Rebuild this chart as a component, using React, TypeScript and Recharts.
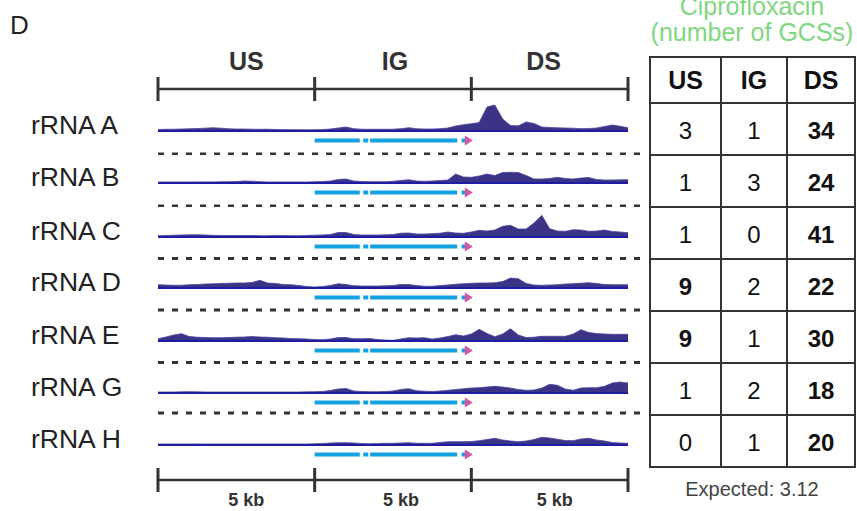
import React from "react";
import {
  AreaChart,
  Area,
  ComposedChart,
  Line,
  XAxis,
  YAxis,
  ReferenceLine,
  ReferenceArea,
  ReferenceDot,
} from "recharts";

// genomic position (kb) of each coverage sample
const kbGrid = [
  0, 0.25, 0.5, 0.75, 1, 1.25, 1.5, 1.75, 2, 2.25,
  2.5, 2.75, 3, 3.25, 3.5, 3.75, 4, 4.25, 4.5, 4.75,
  5, 5.25, 5.5, 5.75, 6, 6.25, 6.5, 6.75, 7, 7.25,
  7.5, 7.75, 8, 8.25, 8.5, 8.75, 9, 9.25, 9.5, 9.75,
  10, 10.25, 10.5, 10.75, 11, 11.25, 11.5, 11.75, 12, 12.25,
  12.5, 12.75, 13, 13.25, 13.5, 13.75, 14, 14.25, 14.5, 14.75,
  15,
];

const trackNames = ["rRNA A", "rRNA B", "rRNA C", "rRNA D", "rRNA E", "rRNA G", "rRNA H"];

const covA = [
  1.5, 1.7, 1.8, 2, 2.2, 2.5, 2.8, 3.3, 2.8, 2.2,
  2, 2, 1.8, 1.7, 1.8, 1.5, 1.4, 1.3, 1.3, 1.2,
  1.3, 1.5, 2, 3, 4, 2.3, 1.8, 1.7, 1.8, 1.7,
  1.8, 2.3, 3.3, 2.3, 2, 2, 2.3, 3, 5, 6.3,
  7.3, 8.5, 24, 26, 12, 5.5, 5.2, 9, 7.5, 4,
  3.5, 3.2, 3, 2.8, 2.3, 2.5, 3, 4.5, 6, 4.7,
  3.3,
];
const covB = [
  1, 1, 1, 1, 1, 1.1, 1.1, 1.1, 1.2, 1.3,
  1.5, 2, 1.8, 1.3, 1, 1, 1, 1, 1, 1,
  1.2, 1.5, 2, 3.5, 4, 2, 1.5, 1.3, 1.3, 1.3,
  1.7, 2.5, 3.3, 2, 1.7, 2, 2.5, 3, 9, 6,
  5.7, 7, 9, 7.5, 10.5, 10.7, 10.5, 7.5, 4, 4,
  4.5, 5.7, 4.5, 4, 5, 5.5, 3.5, 3, 3, 3.2,
  3.3,
];
const covC = [
  1.3, 1.5, 1.8, 2, 2.2, 2.3, 2, 1.7, 1.5, 1.5,
  1.5, 1.5, 1.5, 1.3, 1.3, 1.5, 1.5, 1.3, 1.3, 1.5,
  1.8, 2, 2.5, 4.5, 4.5, 2.5, 2, 2, 2, 2.2,
  2.5, 3.8, 4, 3, 3, 3.3, 3.8, 5, 4, 3.7,
  5, 6.7, 6, 7, 10.7, 11.7, 8, 8, 14, 21.7,
  8.3, 6, 5.7, 7.3, 7, 5.7, 6, 7, 5.5, 5,
  4.3,
];
const covD = [
  3.3, 3, 2.7, 2.8, 3.3, 3.5, 4, 4.2, 4.5, 4.8,
  5, 5, 5.5, 7.7, 5, 4.5, 3.5, 3.3, 2.5, 1.5,
  1, 1.5, 2.5, 4.3, 3.5, 2.3, 2, 2, 2, 2.2,
  2.5, 3.5, 3.5, 2.5, 1.8, 1.7, 2.5, 3, 3.8, 4.3,
  4.7, 5, 5, 5.3, 6.5, 10, 9.3, 4.5, 3, 2.7,
  3, 3.3, 4, 4.3, 4.8, 5.3, 4.5, 3.5, 3.3, 3.3,
  3.3,
];
const covE = [
  2.3, 4, 6, 7.3, 4.5, 3.8, 3.5, 3.3, 3.3, 3.5,
  3.8, 4, 4.5, 4, 3.8, 3.3, 3, 2.5, 2.3, 2,
  1.5, 1.3, 2, 3.5, 3.5, 2.3, 2.3, 2.5, 1.5, 1,
  0.7, 2, 3.3, 3, 3.3, 2, 3, 4.5, 6.3, 5,
  7, 11.7, 7.5, 4.3, 7, 12.3, 6, 3.5, 3.8, 4.7,
  4.7, 4.7, 4.7, 7, 11.3, 8.5, 7.5, 7, 6.7, 6.7,
  6.7,
];
const covG = [
  1, 1, 1, 1.2, 1.3, 1.2, 1, 1, 1, 1,
  1, 1, 1, 1, 1, 1, 1, 1, 1, 1.2,
  1.3, 1.5, 2.5, 4, 4.5, 2, 1.5, 1.3, 1.3, 1.5,
  2, 3.5, 4.3, 2.3, 1.8, 1.5, 2, 2.7, 3.5, 4.3,
  5, 5.3, 6, 6.7, 6, 5, 3.5, 2.7, 3, 5,
  8.7, 7.7, 4, 2.7, 5, 5.3, 5.3, 6.7, 10, 11,
  10,
];
const covH = [
  1, 1, 1, 1, 1, 1.1, 1, 1, 1, 1,
  1, 1, 1, 1, 1, 1, 1, 1, 1, 1,
  1.2, 1.5, 2, 2.3, 2.3, 2, 1.5, 1.3, 1.5, 1.7,
  1.7, 2, 2.3, 1.8, 1.7, 1.7, 2.5, 3.3, 3.3, 3.3,
  3.5, 4.3, 5.5, 6.7, 5, 4, 3.3, 4, 5.5, 7.7,
  7, 5.7, 4.5, 4.3, 6, 6.7, 5, 4, 2.5, 2,
  1.7,
];
const coverage = [covA, covB, covC, covD, covE, covG, covH];

// rRNA operon drawn under each track (kb)
const geneParts = [
  [5.0, 6.44],
  [6.55, 6.71],
  [6.77, 9.55],
  [9.69, 9.8],
];
const geneTip = 9.92;

const regions = ["US", "IG", "DS"];
const regionBounds = [0, 5, 10, 15];
const scaleLabels = ["5 kb", "5 kb", "5 kb"];

// GCS counts per region
const usCounts = [3, 1, 1, 9, 9, 1, 0];
const igCounts = [1, 3, 0, 2, 1, 2, 1];
const dsCounts = [34, 24, 41, 22, 30, 18, 20];
const expected = 3.12;

const rows = kbGrid.map((kb, i) => {
  const r: Record<string, number> = { kb };
  coverage.forEach((c, t) => (r["t" + t] = c[i]));
  return r;
});
const barData = regionBounds.map((kb) => ({ kb, y: 0.5 }));

// layout
const X0 = 158;
const PLOT_W = 470;
const baselines = [131, 183, 236.5, 288, 340.5, 393, 445];
const dashYs = [154, 206, 258, 310, 362, 413];
const ABOVE = 30;
const BELOW = 24;
const FONT = '"Liberation Sans", Arial, sans-serif';

function Arrow(p: any) {
  const { cx, cy } = p;
  return <path d={`M${cx - 4},${cy - 5}L${cx + 4},${cy}L${cx - 4},${cy + 5}Z`} fill="#d4579f" />;
}

function Track({ idx }: { idx: number }) {
  const base = baselines[idx];
  const dash = dashYs[idx];
  const gy = -9.5;
  return (
    <div style={{ position: "absolute", left: X0, top: base - ABOVE }}>
      <AreaChart width={PLOT_W + 30} height={ABOVE + BELOW} data={rows} margin={{ top: 0, right: 30, bottom: 0, left: 0 }}>
        <XAxis type="number" dataKey="kb" domain={[0, 15]} hide />
        <YAxis type="number" domain={[-BELOW, ABOVE]} hide allowDataOverflow />
        <Area
          type="linear"
          dataKey={"t" + idx}
          stroke="#4a43a0"
          strokeWidth={0.8}
          fill="#3b3486"
          fillOpacity={1}
          baseValue={0}
          dot={false}
          activeDot={false}
          isAnimationActive={false}
        />
        <ReferenceLine y={0} stroke="#1d1ca3" strokeWidth={2} />
        {geneParts.map(([a, b], i) => (
          <ReferenceLine key={i} segment={[{ x: a, y: gy }, { x: b, y: gy }]} stroke="#12a2e2" strokeWidth={4} />
        ))}
        <ReferenceDot x={geneTip} y={gy} shape={Arrow} />
        {dash !== undefined && (
          <ReferenceLine
            segment={[{ x: 0, y: base - dash }, { x: 15.4, y: base - dash }]}
            ifOverflow="visible"
            stroke="#333"
            strokeWidth={3}
            strokeDasharray="6 8"
          />
        )}
      </AreaChart>
    </div>
  );
}

function RegionLabel(props: any) {
  const { viewBox, txt, place, shiftX, size } = props;
  const cx = viewBox.x + viewBox.width / 2 + shiftX;
  const y = place === "top" ? viewBox.y - 7 : viewBox.y + viewBox.height + 14;
  return (
    <text x={cx} y={y} textAnchor="middle" fontSize={size} fontWeight="bold" fill="#333" fontFamily={FONT}>
      {txt}
    </text>
  );
}

function ScaleBar({ top, place, labels, shifts, size }: { top: number; place: string; labels: string[]; shifts: number[]; size: number }) {
  const mTop = place === "top" ? 37 : 0;
  const mBottom = place === "top" ? 0 : 20;
  return (
    <div style={{ position: "absolute", left: X0 - 5, top: top - mTop }}>
      <ComposedChart width={PLOT_W + 10} height={mTop + 24 + mBottom} data={barData} margin={{ top: mTop, right: 5, bottom: mBottom, left: 5 }}>
        <XAxis type="number" dataKey="kb" domain={[0, 15]} hide />
        <YAxis type="number" domain={[0, 1]} hide />
        {labels.map((l, i) => (
          <ReferenceArea
            key={i}
            x1={regionBounds[i]}
            x2={regionBounds[i + 1]}
            y1={0}
            y2={1}
            fillOpacity={0}
            strokeOpacity={0}
            label={<RegionLabel txt={l} place={place} shiftX={shifts[i]} size={size} />}
          />
        ))}
        <Line dataKey="y" stroke="#333" strokeWidth={2.5} dot={false} isAnimationActive={false} />
        {regionBounds.map((b) => (
          <ReferenceLine key={b} x={b} stroke="#333" strokeWidth={3} />
        ))}
      </ComposedChart>
    </div>
  );
}

const cell: React.CSSProperties = {
  border: "2px solid #333",
  padding: 0,
  textAlign: "center",
  verticalAlign: "middle",
  color: "#111",
};

export default function App() {
  const strong = (v: number) => v > expected * 2;
  return (
    <div
      style={{
        position: "absolute",
        left: 0,
        top: 0,
        width: 857,
        height: 511,
        overflow: "hidden",
        background: "#fff",
        fontFamily: FONT,
        color: "#222",
      }}
    >
      <div style={{ position: "absolute", left: 10, top: 12, fontSize: 26, lineHeight: "26px" }}>D</div>

      <div
        style={{
          position: "absolute",
          left: 600,
          top: -7,
          width: 304,
          textAlign: "center",
          fontSize: 25,
          lineHeight: "26px",
          color: "#7fd77f",
        }}
      >
        Ciprofloxacin
        <br />
        (number of GCSs)
      </div>

      <ScaleBar top={77} place="top" labels={regions} shifts={[10, 2, -6]} size={25} />

      {trackNames.map((n, i) => (
        <div
          key={n}
          style={{ position: "absolute", left: 31, top: baselines[i] - 6 - 13, fontSize: 26.5, lineHeight: "26px", whiteSpace: "nowrap" }}
        >
          {n}
        </div>
      ))}

      {trackNames.map((n, i) => (
        <Track key={n} idx={i} />
      ))}

      <ScaleBar top={468} place="bottom" labels={scaleLabels} shifts={[10, 8, 5]} size={18} />

      <table
        style={{
          position: "absolute",
          left: 649,
          top: 56,
          width: 205,
          height: 410,
          borderCollapse: "collapse",
          tableLayout: "fixed",
          fontFamily: FONT,
        }}
      >
        <colgroup>
          <col style={{ width: 71 }} />
          <col style={{ width: 66 }} />
          <col style={{ width: 68 }} />
        </colgroup>
        <thead>
          <tr style={{ height: 46 }}>
            {regions.map((r) => (
              <th key={r} style={{ ...cell, fontSize: 25, fontWeight: "bold" }}>
                {r}
              </th>
            ))}
          </tr>
        </thead>
        <tbody>
          {trackNames.map((n, i) => (
            <tr key={n} style={{ height: 52 }}>
              {[usCounts[i], igCounts[i], dsCounts[i]].map((v, j) => (
                <td key={j} style={{ ...cell, fontSize: 24, paddingTop: 4, fontWeight: strong(v) ? "bold" : "normal" }}>
                  {v}
                </td>
              ))}
            </tr>
          ))}
        </tbody>
      </table>

      <div
        style={{
          position: "absolute",
          left: 652,
          top: 479,
          width: 200,
          textAlign: "center",
          fontSize: 20,
          lineHeight: "20px",
          color: "#444",
        }}
      >
        Expected: 3.12
      </div>
    </div>
  );
}
